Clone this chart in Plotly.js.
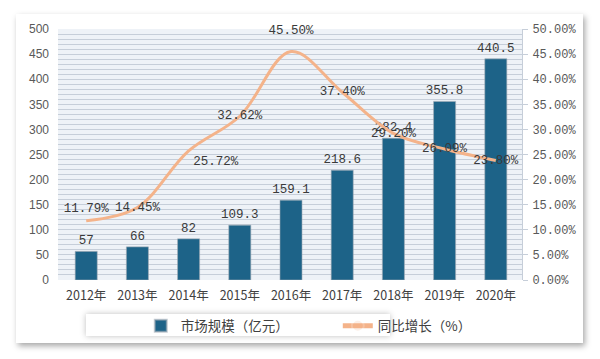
<!DOCTYPE html>
<html><head><meta charset="utf-8">
<script src="https://cdn.plot.ly/plotly-3.0.1.min.js"></script>
<style>
html,body{margin:0;padding:0;background:#fff;width:600px;height:359px;overflow:hidden;}
#frame{position:absolute;left:16px;top:14px;width:567px;height:329px;background:#fff;box-shadow:2px 3px 6px rgba(0,0,0,0.35);}
#legbox{position:absolute;left:86px;top:314px;width:304px;height:22px;background:#fff;box-shadow:0 0 6px rgba(0,0,0,0.25);}
#chart{position:absolute;left:0;top:0;width:600px;height:359px;}
</style></head>
<body>
<div id="frame"></div>
<div id="legbox"></div>
<div id="chart"></div>
<script>
const years = ['2012年','2013年','2014年','2015年','2016年','2017年','2018年','2019年','2020年'];
const marketSize = [57, 66, 82, 109.3, 159.1, 218.6, 282.4, 355.8, 440.5];
const growth = [11.79, 14.45, 25.72, 32.62, 45.50, 37.40, 29.20, 26.09, 23.80];
const growthLabelPos = ['top center','middle center','bottom right','middle center','top center','middle center','middle center','middle center','middle center'];
const growthLabelGap = [8, 0, 6, 0, 22, 0, 0, 0, 0];
const barName = '市场规模（亿元）';
const lineName = '同比增长（%）';

const monoFont = {family:'Liberation Mono, DejaVu Sans Mono, monospace', size:12.5, color:'#3a3a3a'};

const traces = [
  {
    type:'bar', x:years, y:marketSize, name:barName,
    marker:{color:'#1d6388', line:{color:'rgba(160,170,180,0.6)', width:1}},
    text:marketSize.map(v=>String(v)), textposition:'outside', cliponaxis:false,
    constraintext:'none', textfont:monoFont, hoverinfo:'skip'
  },
  {
    type:'scatter', mode:'lines+markers+text', x:years, y:growth.map(v=>v/100), yaxis:'y2', name:lineName,
    line:{color:'#f4b38a', width:3, shape:'spline', smoothing:1},
    marker:{size:growthLabelGap, opacity:0, color:'#f4b38a'},
    text:growth.map(v=>v.toFixed(2)+'%'), textposition:growthLabelPos, cliponaxis:false,
    textfont:monoFont, hoverinfo:'skip'
  }
];

const layout = {
  width:600, height:359,
  margin:{l:58, r:78, t:29, b:79},
  paper_bgcolor:'rgba(0,0,0,0)', plot_bgcolor:'#eef2f7',
  bargap:0.57,
  showlegend:true,
  legend:{orientation:'h', x:0.603, xanchor:'center', y:-0.183, yanchor:'middle',
          font:{family:'Noto Sans CJK SC, sans-serif', size:13.5, color:'#404040'},
          bgcolor:'rgba(0,0,0,0)', entrywidth:152, traceorder:'normal',
          itemsizing:'constant'},
  xaxis:{type:'category', showgrid:false, zeroline:false, showline:false, ticks:'',
         tickfont:{family:'Noto Sans CJK SC, sans-serif', size:12.5, color:'#404040'},
         ticklabelstandoff:6},
  yaxis:{range:[0,500], dtick:50, showgrid:true, gridcolor:'#c6ced9', gridwidth:1,
         minor:{dtick:10, showgrid:true, gridcolor:'#c6ced9', gridwidth:1},
         zeroline:false, showline:false, ticks:'',
         tickfont:{family:'Liberation Sans, Arial, sans-serif', size:12, color:'#595959'},
         ticklabelstandoff:8},
  yaxis2:{overlaying:'y', side:'right', range:[0,0.5], dtick:0.05, tickformat:'.2%',
          showgrid:false, zeroline:false, showline:true, linecolor:'#c6ced9',
          ticks:'outside', ticklen:5, tickcolor:'#c6ced9',
          tickfont:{family:'Liberation Mono, monospace', size:12, color:'#595959'},
          ticklabelstandoff:2}
};

Plotly.newPlot('chart', traces, layout, {staticPlot:true, displayModeBar:false});
</script>
</body></html>
